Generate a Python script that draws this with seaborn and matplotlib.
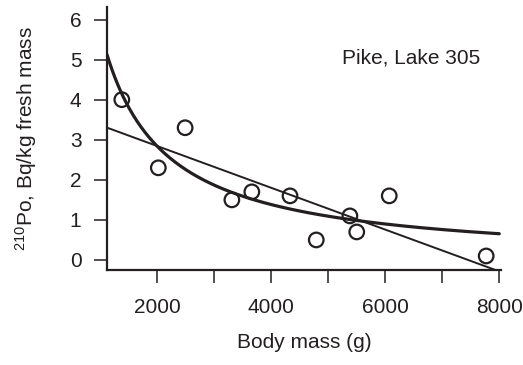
import numpy as np
import pandas as pd
import seaborn as sns
import matplotlib.pyplot as plt

# Pike, Lake 305: body mass (g) vs 210Po activity (Bq/kg fresh mass)
body_mass = [1380, 2020, 2490, 3310, 3660, 4330, 4790, 5380, 5500, 6070, 7770]
po210 = [4.0, 2.3, 3.3, 1.5, 1.7, 1.6, 0.5, 1.1, 0.7, 1.6, 0.1]

x_ticks = [2000, 3000, 4000, 5000, 6000, 7000, 8000]
x_ticklabels = ['2000', '', '4000', '', '6000', '', '8000']
y_ticks = [0, 1, 2, 3, 4, 5, 6]

ink = '#231f20'

sns.set_style('ticks')
plt.rcParams['font.family'] = ['Liberation Sans', 'DejaVu Sans']
plt.rcParams['mathtext.fontset'] = 'custom'
plt.rcParams['mathtext.rm'] = 'Liberation Sans'
plt.rcParams['mathtext.it'] = 'Liberation Sans:italic'
plt.rcParams['mathtext.default'] = 'regular'

df = pd.DataFrame({'mass': body_mass, 'po': po210})

fig = plt.figure(figsize=(5.23, 3.65), dpi=100)
ax = fig.add_axes([107 / 523, 1 - 270 / 365, 394 / 523, 262.5 / 365])
ax.set_xlim(1120, 8030)
ax.set_ylim(-0.25, 6.3)

# linear fit across the whole x range
sns.regplot(data=df, x='mass', y='po', ax=ax, scatter=False, ci=None,
            truncate=False, line_kws={'color': ink, 'lw': 1.4})

# hyperbolic fit y = a + b/x
b, a = np.polyfit(1 / df['mass'], df['po'], 1)
grid = np.linspace(1120, 8000, 300)
sns.lineplot(x=grid, y=a + b / grid, ax=ax, color=ink, lw=2.3)

# open circles, the fit lines show through them
sns.scatterplot(data=df, x='mass', y='po', ax=ax, s=110, marker='o',
                facecolor='none', edgecolor=ink, linewidth=1.6, zorder=5)

ax.text(5250, 5.04, 'Pike, Lake 305', fontsize=15, color=ink, va='center')

ax.set_xticks(x_ticks)
ax.set_xticklabels(x_ticklabels)
ax.set_yticks(y_ticks)
ax.tick_params(axis='both', length=9.4, width=1.1, color=ink,
               labelsize=15, labelcolor=ink)
ax.tick_params(axis='x', pad=11)
ax.tick_params(axis='y', pad=9)

ax.set_xlabel('Body mass (g)', fontsize=15, color=ink, labelpad=11)
ax.set_ylabel('$^{210}$Po, Bq/kg fresh mass', fontsize=15, color=ink, labelpad=22)

sns.despine(ax=ax)
for side in ['left', 'bottom']:
    ax.spines[side].set_linewidth(1.6)
    ax.spines[side].set_color(ink)

fig.savefig('out.png', dpi=100)
